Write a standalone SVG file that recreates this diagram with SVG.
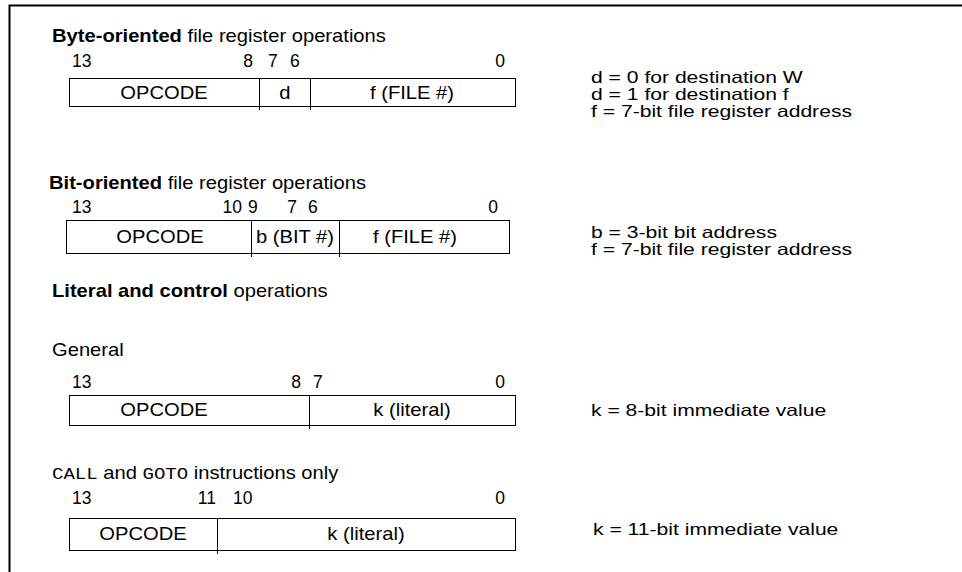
<svg xmlns="http://www.w3.org/2000/svg" width="962" height="572" viewBox="0 0 962 572">
<style>
text{font-family:"Liberation Sans",Arial,sans-serif;font-size:18px;fill:#000;transform-box:fill-box;transform-origin:left center;transform:scaleX(1.12)}
.b{font-weight:bold}
.m{font-family:"Liberation Mono","Courier New",monospace;font-size:17px}
.c{text-anchor:middle;transform-origin:center}
.e{text-anchor:end;transform-origin:right center}
.n{font-size:17.5px;transform:none}
.note{font-size:16.5px;transform:scaleX(1.28)}
.box{fill:#fff;stroke:#000;stroke-width:1}
.div{stroke:#000;stroke-width:1}
.frame{stroke:#000;stroke-width:2;fill:none}
</style>
<rect width="962" height="572" fill="#fff"/>
<path class="frame" d="M9.5,572 V5.5 H962"/>

<g id="byte-oriented">
<text x="52" y="42"><tspan class="b">Byte-oriented</tspan> file register operations</text>
<text x="72" y="67" class="n">13</text>
<text x="253" y="67" class="n e">8</text>
<text x="268" y="67" class="n">7</text>
<text x="290" y="67" class="n">6</text>
<text x="505" y="67" class="n e">0</text>
<rect class="box" x="69.5" y="78.5" width="446" height="28"/>
<line class="div" x1="259.5" y1="78.5" x2="259.5" y2="110"/>
<line class="div" x1="310.5" y1="78.5" x2="310.5" y2="110"/>
<text x="164" y="99" class="c">OPCODE</text>
<text x="285" y="99" class="c">d</text>
<text x="412" y="99" class="c">f (FILE #)</text>
<text x="591" y="83" class="note">d = 0 for destination W</text>
<text x="591" y="100" class="note">d = 1 for destination f</text>
<text x="591" y="117" class="note">f = 7-bit file register address</text>
</g>

<g id="bit-oriented">
<text x="49" y="189"><tspan class="b">Bit-oriented</tspan> file register operations</text>
<text x="72" y="213" class="n">13</text>
<text x="242" y="213" class="n e">10</text>
<text x="248" y="213" class="n">9</text>
<text x="297" y="213" class="n e">7</text>
<text x="308" y="213" class="n">6</text>
<text x="498" y="213" class="n e">0</text>
<rect class="box" x="66.5" y="220.5" width="443" height="33"/>
<line class="div" x1="251.5" y1="220.5" x2="251.5" y2="257"/>
<line class="div" x1="339.5" y1="220.5" x2="339.5" y2="257"/>
<text x="160" y="243" class="c">OPCODE</text>
<text x="295" y="243" class="c">b (BIT #)</text>
<text x="415" y="243" class="c">f (FILE #)</text>
<text x="591" y="238" class="note">b = 3-bit bit address</text>
<text x="591" y="255" class="note">f = 7-bit file register address</text>
</g>

<g id="literal-title">
<text x="52" y="297"><tspan class="b">Literal and control</tspan> operations</text>
</g>

<g id="general">
<text x="52" y="356">General</text>
<text x="72" y="388" class="n">13</text>
<text x="301" y="388" class="n e">8</text>
<text x="313" y="388" class="n">7</text>
<text x="505" y="388" class="n e">0</text>
<rect class="box" x="69.5" y="395.5" width="446" height="30"/>
<line class="div" x1="309.5" y1="395.5" x2="309.5" y2="429"/>
<text x="164" y="416.5" class="c">OPCODE</text>
<text x="412" y="416.5" class="c">k (literal)</text>
<text x="591" y="416" class="note">k = 8-bit immediate value</text>
</g>

<g id="call-goto">
<text x="52" y="479"><tspan class="m">CALL</tspan> and <tspan class="m">GOTO</tspan> instructions only</text>
<text x="72" y="504" class="n">13</text>
<text x="216" y="504" class="n e">11</text>
<text x="233" y="504" class="n">10</text>
<text x="505" y="504" class="n e">0</text>
<rect class="box" x="69.5" y="518.5" width="446" height="32"/>
<line class="div" x1="217.5" y1="518.5" x2="217.5" y2="554"/>
<text x="143" y="540.5" class="c">OPCODE</text>
<text x="366" y="540.5" class="c">k (literal)</text>
<text x="593" y="535" class="note">k = 11-bit immediate value</text>
</g>

<g id="connectors"></g>
</svg>
